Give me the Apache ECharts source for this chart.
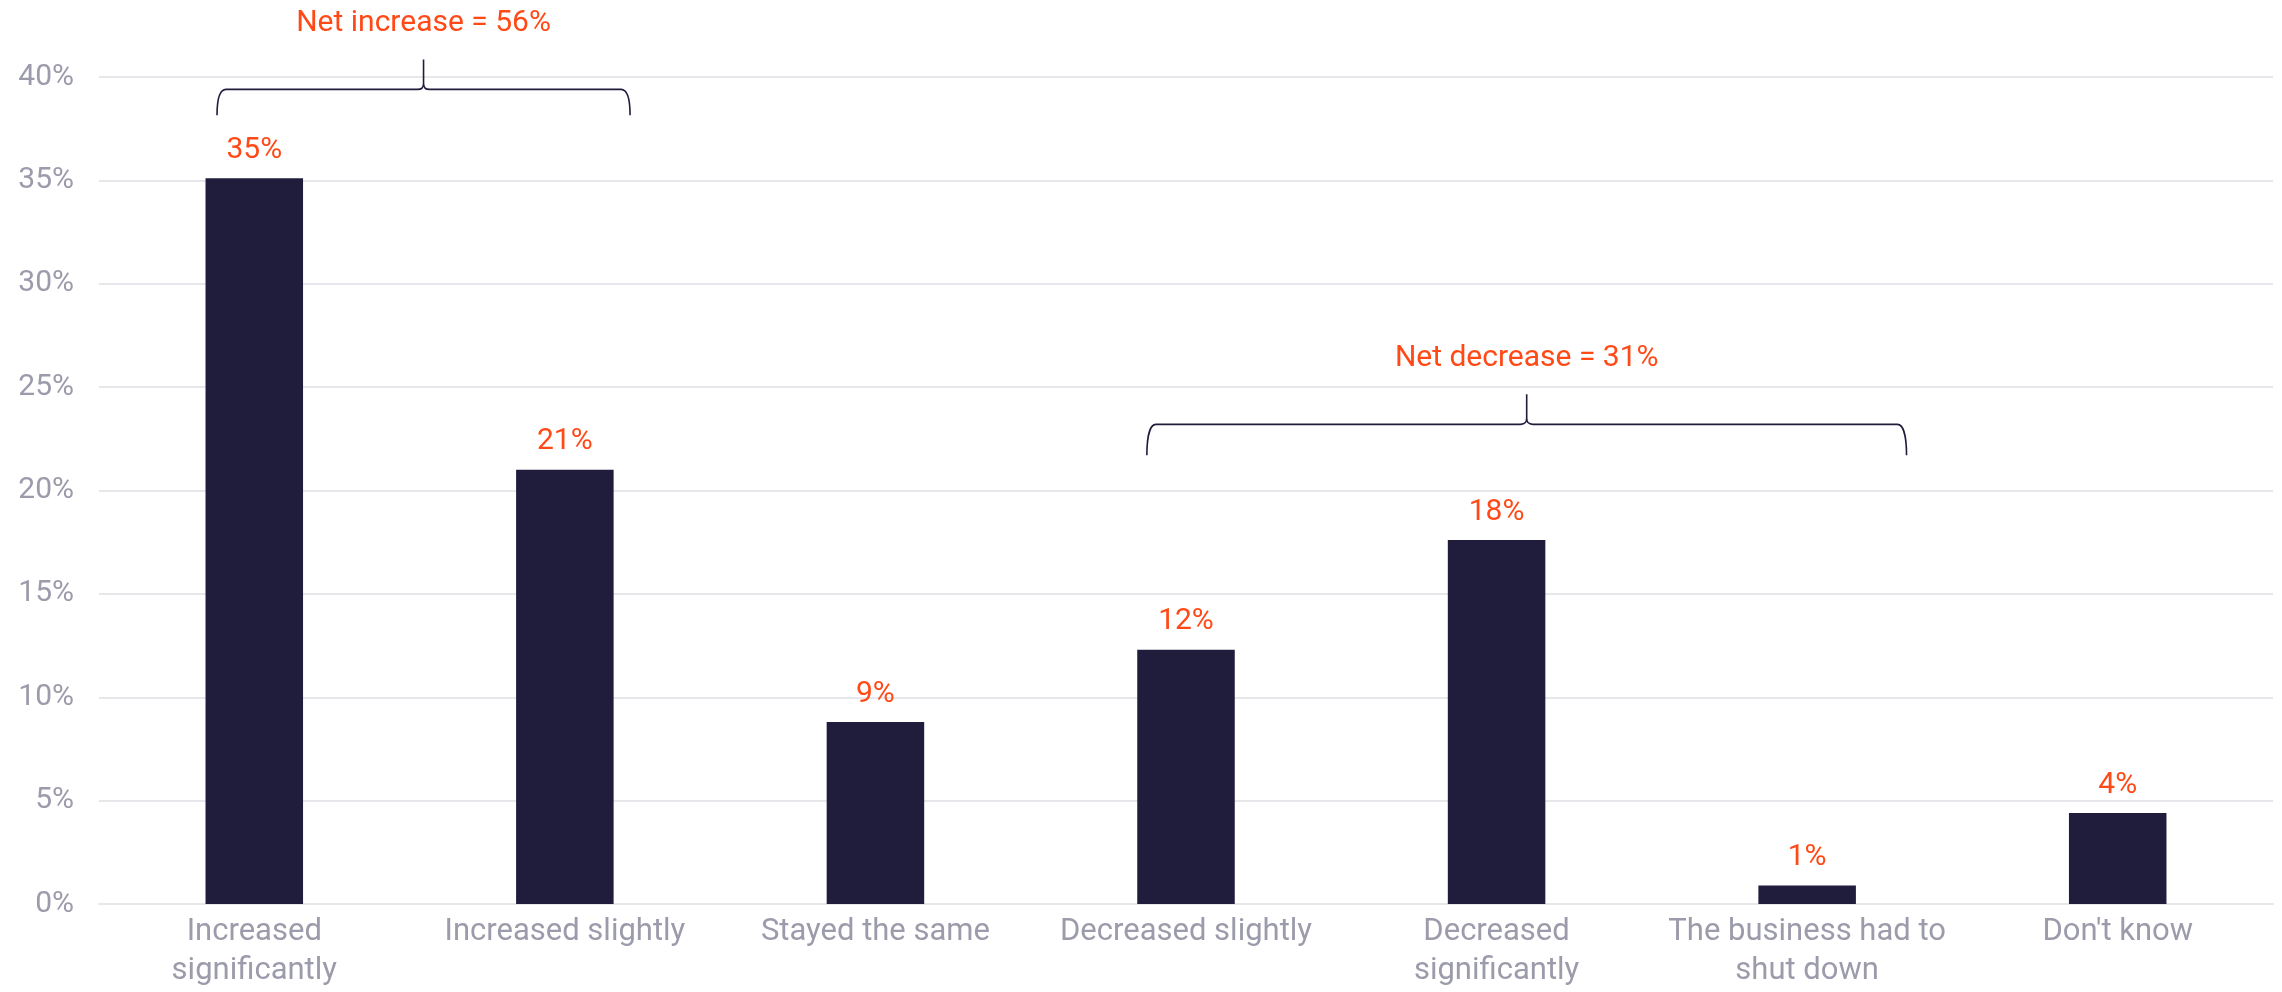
<!DOCTYPE html>
<html>
<head>
<meta charset="utf-8">
<script src="https://cdn.jsdelivr.net/npm/echarts@6/dist/echarts.min.js"></script>
<style>
  html, body { margin: 0; padding: 0; background: #ffffff; }
  #chart { width: 2282px; height: 992px; }
</style>
</head>
<body>
<div id="chart"></div>
<script>
// Survey answers (share of respondents, %)
const categories = [
  'Increased\nsignificantly',
  'Increased slightly',
  'Stayed the same',
  'Decreased slightly',
  'Decreased\nsignificantly',
  'The business had to\nshut down',
  "Don't know"
];
const shares = [35.1, 21.0, 8.8, 12.3, 17.6, 0.9, 4.4];
const yTicks = [0, 5, 10, 15, 20, 25, 30, 35, 40];

// Groups summarised by a bracket above the bars
const groupNames = ['Net increase', 'Net decrease'];
const groupMembers = [[0, 1], [3, 4, 5]];

// Bracket geometry, in category units (x) and axis percent (y)
const bracketLayout = [
  { from: -0.12, to: 0.21, foot: 38.15, bar: 39.4, tip: 40.85, text: 42.6 },
  { from: -0.126, to: 0.32, foot: 21.7, bar: 23.2, tip: 24.65, text: 26.4 }
];

const ORANGE = '#ff4a17';
const NAVY = '#201c3b';
const GREY = '#9b9bab';
const GRID = '#e6e6eb';
const FONT = 'Roboto, "DejaVu Sans", sans-serif';

const chart = echarts.init(document.getElementById('chart'), null, { renderer: 'canvas' });

function bracePath(x0, x1, xm, yFoot, yBar, yTip) {
  const r = 9, rt = 6;
  return [
    'M', x0, yFoot,
    'C', x0, yFoot - 10, x0 + 1, yBar, x0 + r, yBar,
    'L', xm - rt, yBar,
    'Q', xm, yBar, xm, yBar - rt,
    'L', xm, yTip,
    'M', xm, yBar - rt,
    'Q', xm, yBar, xm + rt, yBar,
    'L', x1 - r, yBar,
    'C', x1 - 1, yBar, x1, yFoot - 10, x1, yFoot
  ].join(' ');
}

const bracketData = groupNames.map((name, i) => [groupMembers[i][0], 0]);

chart.setOption({
  animation: false,
  grid: { left: 99, right: 9, top: 77, bottom: 88, containLabel: false },
  xAxis: {
    type: 'category',
    data: categories,
    axisLine: { show: true, lineStyle: { color: GRID, width: 2 } },
    axisTick: { show: false },
    axisLabel: {
      color: GREY, fontFamily: FONT, fontSize: 31, lineHeight: 39,
      margin: 9, interval: 0
    }
  },
  yAxis: {
    type: 'value',
    min: yTicks[0],
    max: yTicks[yTicks.length - 1],
    interval: yTicks[1] - yTicks[0],
    axisLine: { show: false },
    axisTick: { show: false },
    splitLine: { lineStyle: { color: GRID, width: 2 } },
    axisLabel: {
      color: GREY, fontFamily: FONT, fontSize: 30, margin: 25,
      formatter: '{value}%'
    }
  },
  series: [
    {
      type: 'bar',
      data: shares,
      barWidth: '31.4%',
      itemStyle: { color: NAVY },
      label: {
        show: true, position: 'top', distance: 13,
        color: ORANGE, fontFamily: FONT, fontSize: 30,
        formatter: p => Math.round(p.value) + '%'
      }
    },
    {
      type: 'custom',
      clip: false,
      silent: true,
      data: bracketData,
      renderItem: function (params, api) {
        const i = params.dataIndex;
        const members = groupMembers[i];
        const lay = bracketLayout[i];
        const band = api.size([1, 0])[0];
        const first = api.coord([members[0], lay.bar]);
        const last = api.coord([members[members.length - 1], lay.bar]);
        const x0 = first[0] + lay.from * band;
        const x1 = last[0] + lay.to * band;
        const xm = (x0 + x1) / 2;
        const yBar = first[1];
        const yFoot = api.coord([members[0], lay.foot])[1];
        const yTip = api.coord([members[0], lay.tip])[1];
        const yText = api.coord([members[0], lay.text])[1];
        const net = Math.round(members.reduce((s, k) => s + shares[k], 0));
        return {
          type: 'group',
          children: [
            {
              type: 'path',
              shape: { pathData: bracePath(x0, x1, xm, yFoot, yBar, yTip) },
              style: { stroke: NAVY, fill: null, lineWidth: 1.6 }
            },
            {
              type: 'text',
              style: {
                text: groupNames[i] + ' = ' + net + '%',
                x: xm, y: yText,
                align: 'center', verticalAlign: 'middle',
                fill: ORANGE, font: '30px ' + FONT
              }
            }
          ]
        };
      }
    }
  ]
});
</script>
</body>
</html>
